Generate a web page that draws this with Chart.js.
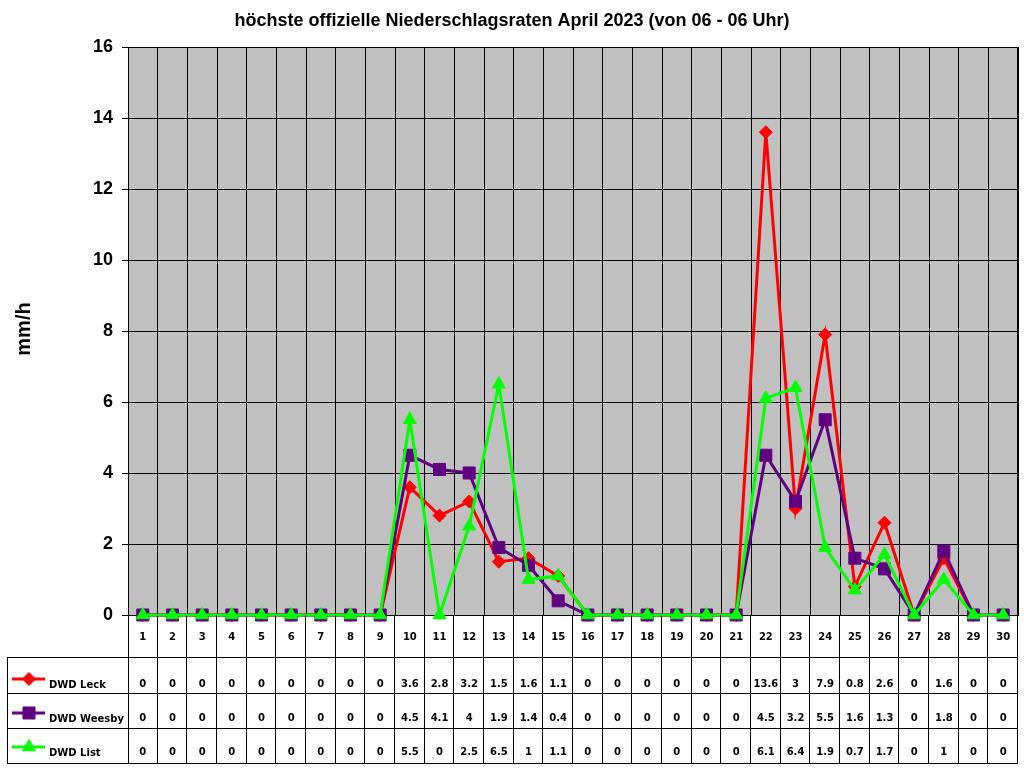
<!DOCTYPE html>
<html>
<head>
<meta charset="utf-8">
<script src="https://cdn.jsdelivr.net/npm/chart.js@4/dist/chart.umd.min.js"></script>
<style>
html,body{margin:0;padding:0;background:#fff;}
canvas{display:block;}
</style>
</head>
<body>
<canvas id="c" width="1024" height="768"></canvas>
<script>
const TITLE = 'höchste offizielle Niederschlagsraten April 2023 (von 06 - 06 Uhr)';
const Y_TITLE = 'mm/h';
const days = ['1','2','3','4','5','6','7','8','9','10','11','12','13','14','15','16','17','18','19','20','21','22','23','24','25','26','27','28','29','30'];
const leck   = [0,0,0,0,0,0,0,0,0,3.6,2.8,3.2,1.5,1.6,1.1,0,0,0,0,0,0,13.6,3,7.9,0.8,2.6,0,1.6,0,0];
const weesby = [0,0,0,0,0,0,0,0,0,4.5,4.1,4,1.9,1.4,0.4,0,0,0,0,0,0,4.5,3.2,5.5,1.6,1.3,0,1.8,0,0];
const list   = [0,0,0,0,0,0,0,0,0,5.5,0,2.5,6.5,1,1.1,0,0,0,0,0,0,6.1,6.4,1.9,0.7,1.7,0,1,0,0];
const seriesNames = ['DWD Leck','DWD Weesby','DWD List'];
const yTicks = [0,2,4,6,8,10,12,14,16];

const styles = [
  {color:'#FF0000', pointStyle:'rectRot', radius:6.5},
  {color:'#600080', pointStyle:'rect', radius:8.5},
  {color:'#00FF00', pointStyle:'triangle', radius:7.5}
];
const seriesData = [leck, weesby, list];

// keep the plot area exactly where the layout padding puts it
Chart.LineController.prototype.getMaxOverflow = function(){ return 0; };

const datasets = seriesData.map((d,i)=>({
  label: seriesNames[i],
  data: d,
  borderColor: styles[i].color,
  backgroundColor: styles[i].color,
  pointBackgroundColor: styles[i].color,
  pointBorderColor: styles[i].color,
  pointStyle: styles[i].pointStyle,
  pointRadius: styles[i].radius,
  pointHoverRadius: styles[i].radius,
  pointBorderWidth: 1,
  borderWidth: 3,
  tension: 0,
  clip: false,
  order: 3 - i
}));

const TABLE_LEFT = 7;
const ROWS = [615, 657, 693, 728, 763];

const bgPlugin = {
  id:'bg',
  beforeDraw(chart){
    const {ctx, chartArea:a} = chart;
    ctx.save();
    ctx.fillStyle = '#C0C0C0';
    ctx.fillRect(a.left, a.top, a.right - a.left, a.bottom - a.top);
    ctx.restore();
  }
};

const tablePlugin = {
  id:'table',
  afterDraw(chart){
    const {ctx, chartArea:a} = chart;
    const xs = chart.scales.x;
    ctx.save();
    ctx.strokeStyle = '#000';
    ctx.lineWidth = 1;
    ctx.beginPath();
    ctx.moveTo(a.left, a.top + 0.5); ctx.lineTo(a.right, a.top + 0.5);
    ctx.moveTo(a.right - 0.5, a.top); ctx.lineTo(a.right - 0.5, a.bottom);
    ctx.stroke();

    ctx.fillStyle = '#000';
    ctx.font = 'bold 18px "Liberation Sans", Arial, sans-serif';
    ctx.textAlign = 'center';
    ctx.textBaseline = 'middle';
    ctx.fillText(TITLE, 512, 21);

    ctx.save();
    ctx.translate(24, 329);
    ctx.rotate(-Math.PI/2);
    ctx.font = 'bold 20px "Liberation Sans", Arial, sans-serif';
    ctx.fillText(Y_TITLE, 0, 0);
    ctx.restore();

    const n = days.length;
    const w = (a.right - a.left) / n;
    ctx.beginPath();
    for (let r = 1; r < ROWS.length; r++) {
      const y = ROWS[r] + 0.5;
      ctx.moveTo(TABLE_LEFT, y); ctx.lineTo(a.right, y);
    }
    ctx.moveTo(TABLE_LEFT + 0.5, ROWS[1]); ctx.lineTo(TABLE_LEFT + 0.5, ROWS[4] + 1);
    ctx.moveTo(a.left + 0.5, ROWS[0]); ctx.lineTo(a.left + 0.5, ROWS[4] + 1);
    for (let i = 1; i <= n; i++) {
      const x = Math.round(a.left + i * w) - 0.5;
      ctx.moveTo(x, ROWS[0]); ctx.lineTo(x, ROWS[4] + 1);
    }
    ctx.stroke();

    ctx.font = 'bold 10px "DejaVu Sans", Verdana, sans-serif';
    ctx.textAlign = 'center';
    ctx.textBaseline = 'middle';
    days.forEach((d, i) => {
      ctx.fillText(d, xs.getPixelForValue(i), 637);
    });
    const rowY = [684, 718, 752];
    seriesData.forEach((arr, s) => {
      arr.forEach((v, i) => {
        ctx.fillText(String(v), xs.getPixelForValue(i), rowY[s]);
      });
    });

    const keyY = [679, 713, 747];
    seriesNames.forEach((name, s) => {
      ctx.strokeStyle = styles[s].color;
      ctx.lineWidth = 3;
      ctx.beginPath();
      ctx.moveTo(12, keyY[s]); ctx.lineTo(45, keyY[s]);
      ctx.stroke();
      ctx.fillStyle = styles[s].color;
      ctx.lineWidth = 1;
      Chart.helpers.drawPoint(ctx, {
        pointStyle: styles[s].pointStyle,
        radius: styles[s].radius,
        borderWidth: 1,
        rotation: 0
      }, 29, keyY[s]);
      ctx.fillStyle = '#000';
      ctx.font = 'bold 10px "DejaVu Sans", Verdana, sans-serif';
      ctx.textAlign = 'left';
      ctx.textBaseline = 'middle';
      ctx.fillText(name, 49, keyY[s] + 6);
    });
    ctx.restore();
  }
};

new Chart(document.getElementById('c'), {
  type: 'line',
  data: { labels: days, datasets },
  options: {
    responsive: false,
    devicePixelRatio: 1,
    animation: false,
    events: [],
    layout: { padding: { top: 47, right: 6, left: 0, bottom: 0 } },
    plugins: { legend: { display: false }, title: { display: false }, tooltip: { enabled: false } },
    scales: {
      x: {
        type: 'category',
        offset: true,
        grid: { offset: true, color: '#000', lineWidth: 1, drawTicks: false },
        border: { display: true, color: '#000', width: 1 },
        ticks: { display: false },
        afterFit(scale){ scale.height = 153; }
      },
      y: {
        min: 0, max: 16,
        afterBuildTicks(scale){ scale.ticks = yTicks.map(v => ({ value: v })); },
        grid: { color: '#000', lineWidth: 1, tickLength: 6, tickColor: '#000', drawTicks: true },
        border: { display: true, color: '#000', width: 1 },
        ticks: {
          padding: 9,
          color: '#000',
          font: { family: '"Liberation Sans", Arial, sans-serif', size: 18, weight: 'bold' }
        },
        afterFit(scale){ scale.width = 128; }
      }
    }
  },
  plugins: [bgPlugin, tablePlugin]
});
</script>
</body>
</html>
